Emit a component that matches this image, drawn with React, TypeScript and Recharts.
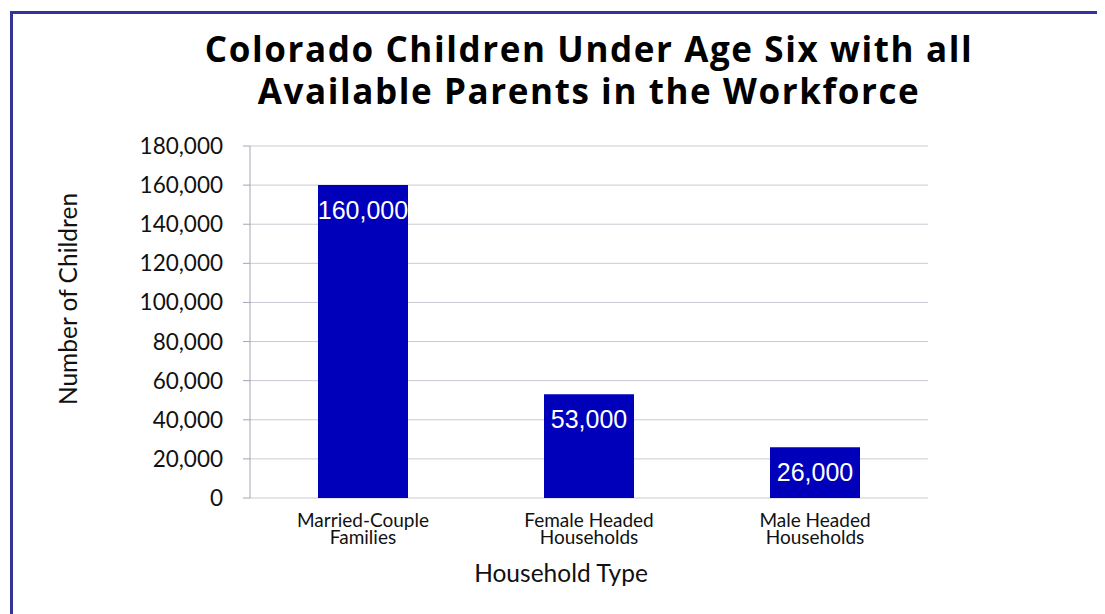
import { BarChart, Bar, XAxis, YAxis, CartesianGrid, LabelList, Label } from 'recharts';

const categories = ['Married-Couple\nFamilies', 'Female Headed\nHouseholds', 'Male Headed\nHouseholds'];
const children = [160000, 53000, 26000];
const yTicks = [0, 20000, 40000, 60000, 80000, 100000, 120000, 140000, 160000, 180000];
const edgeTicks = [0, 1, 2, 3];

const data = categories.map((name, i) => ({ name, children: children[i] }));

const fmt = (v: number) => v.toLocaleString('en-US');
const FONT = 'Lato, "Open Sans", sans-serif';

function CategoryTick(props: any) {
  const { x, y, payload } = props;
  const lines = String(payload.value).split('\n');
  return (
    <text x={x} y={y} textAnchor="middle" fontFamily={FONT} fontSize={19} fill="#111">
      {lines.map((l, i) => (
        <tspan key={i} x={x} dy={i === 0 ? 21 : 17}>{l}</tspan>
      ))}
    </text>
  );
}

function YTitle(props: any) {
  const { x, y, height } = props.viewBox;
  const cx = x + 1;
  const cy = y + height / 2 - 23;
  return (
    <text x={cx} y={cy} transform={`rotate(-90 ${cx} ${cy})`} textAnchor="middle" dominantBaseline="central"
      fontFamily={FONT} fontSize={24.5} fill="#111">
      Number of Children
    </text>
  );
}

export default function App() {
  return (
    <div style={{ position: 'relative', width: 1097, height: 606, overflow: 'hidden', background: '#fff' }}>
      <div style={{ position: 'absolute', left: 2, top: 3, width: 1200, height: 700, border: '3px solid #333399' }} />
      <div style={{
        position: 'absolute', left: 0, top: 20, width: 1162, textAlign: 'center',
        fontFamily: '"Open Sans", Lato, sans-serif', fontWeight: 700, fontSize: 35, lineHeight: '42px',
        letterSpacing: 1.6, color: '#000',
      }}>
        Colorado Children Under Age Six with all<br />Available Parents in the Workforce
      </div>
      <div style={{ position: 'absolute', left: 0, top: 0 }}>
        <BarChart width={1097} height={606} data={data} margin={{ top: 138, right: 177, bottom: 56, left: 58 }}>
          <CartesianGrid vertical={false} stroke="#c9c9d3" />
          <XAxis xAxisId="edges" type="number" domain={[0, 3]} ticks={edgeTicks} tick={false} height={0}
            stroke="#a7a3b3" tickSize={9} allowDataOverflow />
          <XAxis xAxisId="cat" dataKey="name" height={60} axisLine={false} tickLine={false} interval={0}
            tick={<CategoryTick />}>
            <Label value="Household Type" position="bottom" offset={7} dx={-28}
              style={{ fontFamily: FONT, fontSize: 24.5, fill: '#111' }} />
          </XAxis>
          <YAxis width={184} domain={[0, 180000]} ticks={yTicks} tickFormatter={fmt} stroke="#a7a3b3"
            tickSize={7} tickMargin={20} tick={{ fontFamily: FONT, fontSize: 22.5, fill: '#111' }}
            label={{ content: <YTitle /> }} />
          <Bar dataKey="children" xAxisId="cat" fill="#0000bb" barSize={90} isAnimationActive={false}>
            <LabelList dataKey="children" position="insideTop" offset={16} formatter={(v: any) => fmt(Number(v))}
              style={{ fontFamily: '"Liberation Sans", Arial, sans-serif', fontSize: 25, fill: '#fff' }} />
          </Bar>
        </BarChart>
      </div>
    </div>
  );
}
